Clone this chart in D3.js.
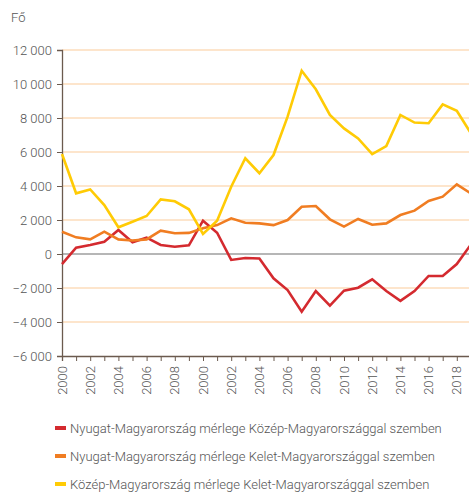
<!DOCTYPE html>
<html>
<head>
<meta charset="utf-8">
<script src="https://cdn.jsdelivr.net/npm/d3@7"></script>
<style>
  body { margin: 0; background: #fff; }
  text { font-family: Roboto, "Open Sans", sans-serif; font-weight: 300; fill: #555; }
</style>
</head>
<body>
<div id="chart"></div>
<script>
// years on the x axis
const years = [1990, 1991, 1992, 1993, 1994, 1995, 1996, 1997, 1998, 1999,
               2000, 2001, 2002, 2003, 2004, 2005, 2006, 2007, 2008, 2009,
               2010, 2011, 2012, 2013, 2014, 2015, 2016, 2017, 2018, 2019];

// labels as printed in the source (first five read 2000..2008)
const tickYears = [1990, 1992, 1994, 1996, 1998, 2000, 2002, 2004, 2006, 2008, 2010, 2012, 2014, 2016, 2018];
const tickLabels = ["2000", "2002", "2004", "2006", "2008", "2000", "2002", "2004", "2006", "2008",
                    "2010", "2012", "2014", "2016", "2018"];

const yTicks = [-6000, -4000, -2000, 0, 2000, 4000, 6000, 8000, 10000, 12000];

const seriesNames = [
    "Nyugat-Magyarország mérlege Közép-Magyarországgal szemben",
    "Nyugat-Magyarország mérlege Kelet-Magyarországgal szemben",
    "Közép-Magyarország mérlege Kelet-Magyarországgal szemben"
];
const seriesColors = ["#d42a2f", "#f07d22", "#ffcb05"];

const westCentral = [-590, 370, 530, 720, 1410, 690, 960, 530, 430, 510,
                     1960, 1250, -350, -235, -260, -1430, -2120, -3390, -2180, -3040,
                     -2160, -1980, -1490, -2180, -2760, -2180, -1290, -1290, -590, 560];
const westEast = [1310, 980, 860, 1310, 860, 790, 860, 1370, 1220, 1240,
                  1510, 1700, 2100, 1840, 1800, 1700, 2000, 2780, 2820, 2040,
                  1610, 2060, 1725, 1800, 2290, 2550, 3120, 3370, 4100, 3560];
const centralEast = [5880, 3570, 3800, 2880, 1570, 1900, 2235, 3210, 3100, 2630,
                     1180, 1960, 3960, 5630, 4750, 5820, 8080, 10780, 9690, 8180,
                     7390, 6800, 5880, 6350, 8180, 7730, 7690, 8800, 8430, 7100];

const allSeries = [westCentral, westEast, centralEast];

const width = 469, height = 493;
const margin = {left: 62, top: 50, bottom: 356};

const svg = d3.select("#chart").append("svg")
    .attr("width", width)
    .attr("height", height);

const x = d3.scaleLinear().domain([1990, 2019]).range([margin.left, margin.left + 29 * 14.1]);
const y = d3.scaleLinear().domain([-6000, 12000]).range([margin.bottom, margin.top]);

const fmt = v => d3.format(",")(v).replace(/,/g, " ");

// gridlines
svg.append("g").selectAll("line")
    .data(yTicks.filter(d => d !== 0 && d !== -6000))
    .join("line")
    .attr("x1", margin.left).attr("x2", width)
    .attr("y1", d => y(d)).attr("y2", d => y(d))
    .attr("stroke", "#fddcbb")
    .attr("stroke-width", 1.5);

// zero line
svg.append("line")
    .attr("x1", margin.left).attr("x2", width)
    .attr("y1", y(0)).attr("y2", y(0))
    .attr("stroke", "#6e6e6e")
    .attr("stroke-width", 1.2);

// y axis
const yAxis = svg.append("g")
    .attr("transform", `translate(${margin.left},0)`)
    .call(d3.axisLeft(y).tickValues(yTicks).tickFormat(fmt).tickSize(5).tickPadding(5));
yAxis.select(".domain").attr("stroke", "#6b5a4e").attr("stroke-width", 1.3);
yAxis.selectAll(".tick line").attr("stroke", "#6b5a4e");
yAxis.selectAll("text").attr("font-size", 13).attr("fill", "#555")
    .style("font-family", "Roboto, sans-serif").style("font-weight", 300);

// x axis
const xAxis = svg.append("g")
    .attr("transform", `translate(0,${margin.bottom})`)
    .call(d3.axisBottom(x).tickValues(years).tickSize(5).tickFormat(""));
xAxis.select(".domain").attr("stroke", "#6b5a4e").attr("stroke-width", 1.3);
xAxis.selectAll(".tick line").attr("stroke", "#6b5a4e");

svg.append("g").selectAll("text")
    .data(tickYears)
    .join("text")
    .attr("transform", d => `translate(${x(d) + 4.5},366) rotate(-90)`)
    .attr("text-anchor", "end")
    .attr("font-size", 13)
    .text((d, i) => tickLabels[i]);

// unit label
svg.append("text")
    .attr("x", 11).attr("y", 22)
    .attr("font-size", 13)
    .text("Fő");

// lines
const line = d3.line()
    .x((d, i) => x(years[i]))
    .y(d => y(d));

svg.append("g").selectAll("path")
    .data(allSeries)
    .join("path")
    .attr("d", line)
    .attr("fill", "none")
    .attr("stroke", (d, i) => seriesColors[i])
    .attr("stroke-width", 2.6)
    .attr("stroke-linejoin", "miter");

// legend
const legend = svg.append("g").selectAll("g")
    .data(seriesNames)
    .join("g")
    .attr("transform", (d, i) => `translate(55,${428 + i * 28})`);

legend.append("rect")
    .attr("x", 0).attr("y", -2)
    .attr("width", 11).attr("height", 4)
    .attr("fill", (d, i) => seriesColors[i]);

legend.append("text")
    .attr("x", 15).attr("y", 5)
    .attr("font-size", 13)
    .text(d => d);
</script>
</body>
</html>
